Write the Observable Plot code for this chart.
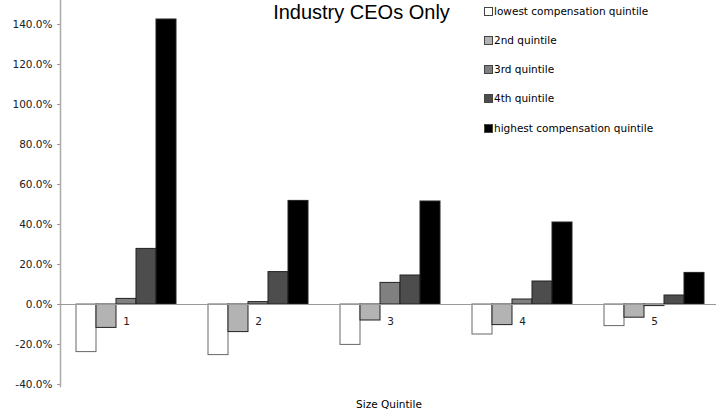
<!DOCTYPE html>
<html>
<head>
<meta charset="utf-8">
<script src="https://cdn.jsdelivr.net/npm/d3@7"></script>
<script src="https://cdn.jsdelivr.net/npm/@observablehq/plot@0.6"></script>
<style>
  html, body { margin: 0; padding: 0; background: #fff; }
  #wrap { position: relative; width: 716px; height: 412px; overflow: hidden; font-family: "DejaVu Sans", sans-serif; }
  #title { position: absolute; left: 0; width: 723px; top: 1px; text-align: center; font-family: "Liberation Sans", Arial, sans-serif; font-size: 20px; color: #000; line-height: 22px; }
  #legend { position: absolute; left: 484px; top: 0; font-size: 10.5px; color: #000; }
  .item { position: absolute; left: 0; white-space: nowrap; height: 12px; line-height: 12px; }
  .sw { display: inline-block; width: 9px; height: 9px; border: 1px solid #444; vertical-align: -1px; margin-right: 1px; box-sizing: border-box; }
  #xlabel { position: absolute; left: 0; width: 778px; top: 398px; text-align: center; font-size: 10.5px; line-height: 13px; }
  svg { position: absolute; left: 0; top: 0; }
</style>
</head>
<body>
<div id="wrap">
  <div id="chart"></div>
  <div id="title">Industry CEOs Only</div>
  <div id="legend"></div>
  <div id="xlabel">Size Quintile</div>
</div>
<script>
const categories = ["1", "2", "3", "4", "5"];
const series = ["lowest compensation quintile", "2nd quintile", "3rd quintile", "4th quintile", "highest compensation quintile"];
const colors = ["#ffffff", "#b3b3b3", "#808080", "#4d4d4d", "#000000"];
const lowest  = [-0.238, -0.253, -0.202, -0.150, -0.108];
const second  = [-0.117, -0.138, -0.080, -0.103, -0.066];
const third   = [0.028, 0.012, 0.108, 0.025, -0.008];
const fourth  = [0.278, 0.162, 0.145, 0.115, 0.045];
const highest = [1.425, 0.518, 0.515, 0.410, 0.158];
const yTicks = [-0.4, -0.2, 0, 0.2, 0.4, 0.6, 0.8, 1.0, 1.2, 1.4];

const valuesBySeries = [lowest, second, third, fourth, highest];
const data = [];
categories.forEach((c, i) => {
  series.forEach((s, j) => data.push({cat: c, series: s, value: valuesBySeries[j][i]}));
});

const fmt = d => (d * 100).toFixed(1) + "%";

const chart = Plot.plot({
  width: 716,
  height: 412,
  marginLeft: 59,
  marginRight: 0,
  marginTop: 0,
  marginBottom: 26,
  style: {fontFamily: "DejaVu Sans, sans-serif", background: "transparent"},
  fx: {domain: categories, range: [59, 721.5], padding: 0, axis: null},
  x: {domain: series, range: [74.5, 176], padding: 0, axis: null},
  y: {domain: [-0.4, 1.4], range: [384, 24], axis: null},
  color: {domain: series, range: colors},
  marks: [
    Plot.frame({anchor: "left", facetAnchor: "left", stroke: "#aaa", strokeWidth: 1.5}),
    Plot.barY(data, {
      fx: "cat", x: "series", y: "value", fill: "series",
      stroke: d => d.series === series[0] ? "#666" : "#222",
      strokeWidth: 1
    }),
    Plot.ruleY([0], {stroke: "#999", strokeWidth: 1}),
    Plot.text(categories, {fx: d => d, y: () => 0, text: d => d, dy: 17, fontSize: 10.5, fill: "#222"}),
    Plot.axisY({
      ticks: yTicks, tickFormat: fmt, tickSize: 3, tickPadding: 5,
      stroke: "#999", fontSize: 10.5, fill: "#222", label: null
    })
  ]
});
document.getElementById("chart").appendChild(chart);

const legend = document.getElementById("legend");
const rowY = [11, 40, 69, 98, 128];
series.forEach((s, j) => {
  const it = document.createElement("div");
  it.className = "item";
  it.style.top = (rowY[j] - 6) + "px";
  const sw = document.createElement("span");
  sw.className = "sw";
  sw.style.background = colors[j];
  it.appendChild(sw);
  it.appendChild(document.createTextNode(s));
  legend.appendChild(it);
});
</script>
</body>
</html>
